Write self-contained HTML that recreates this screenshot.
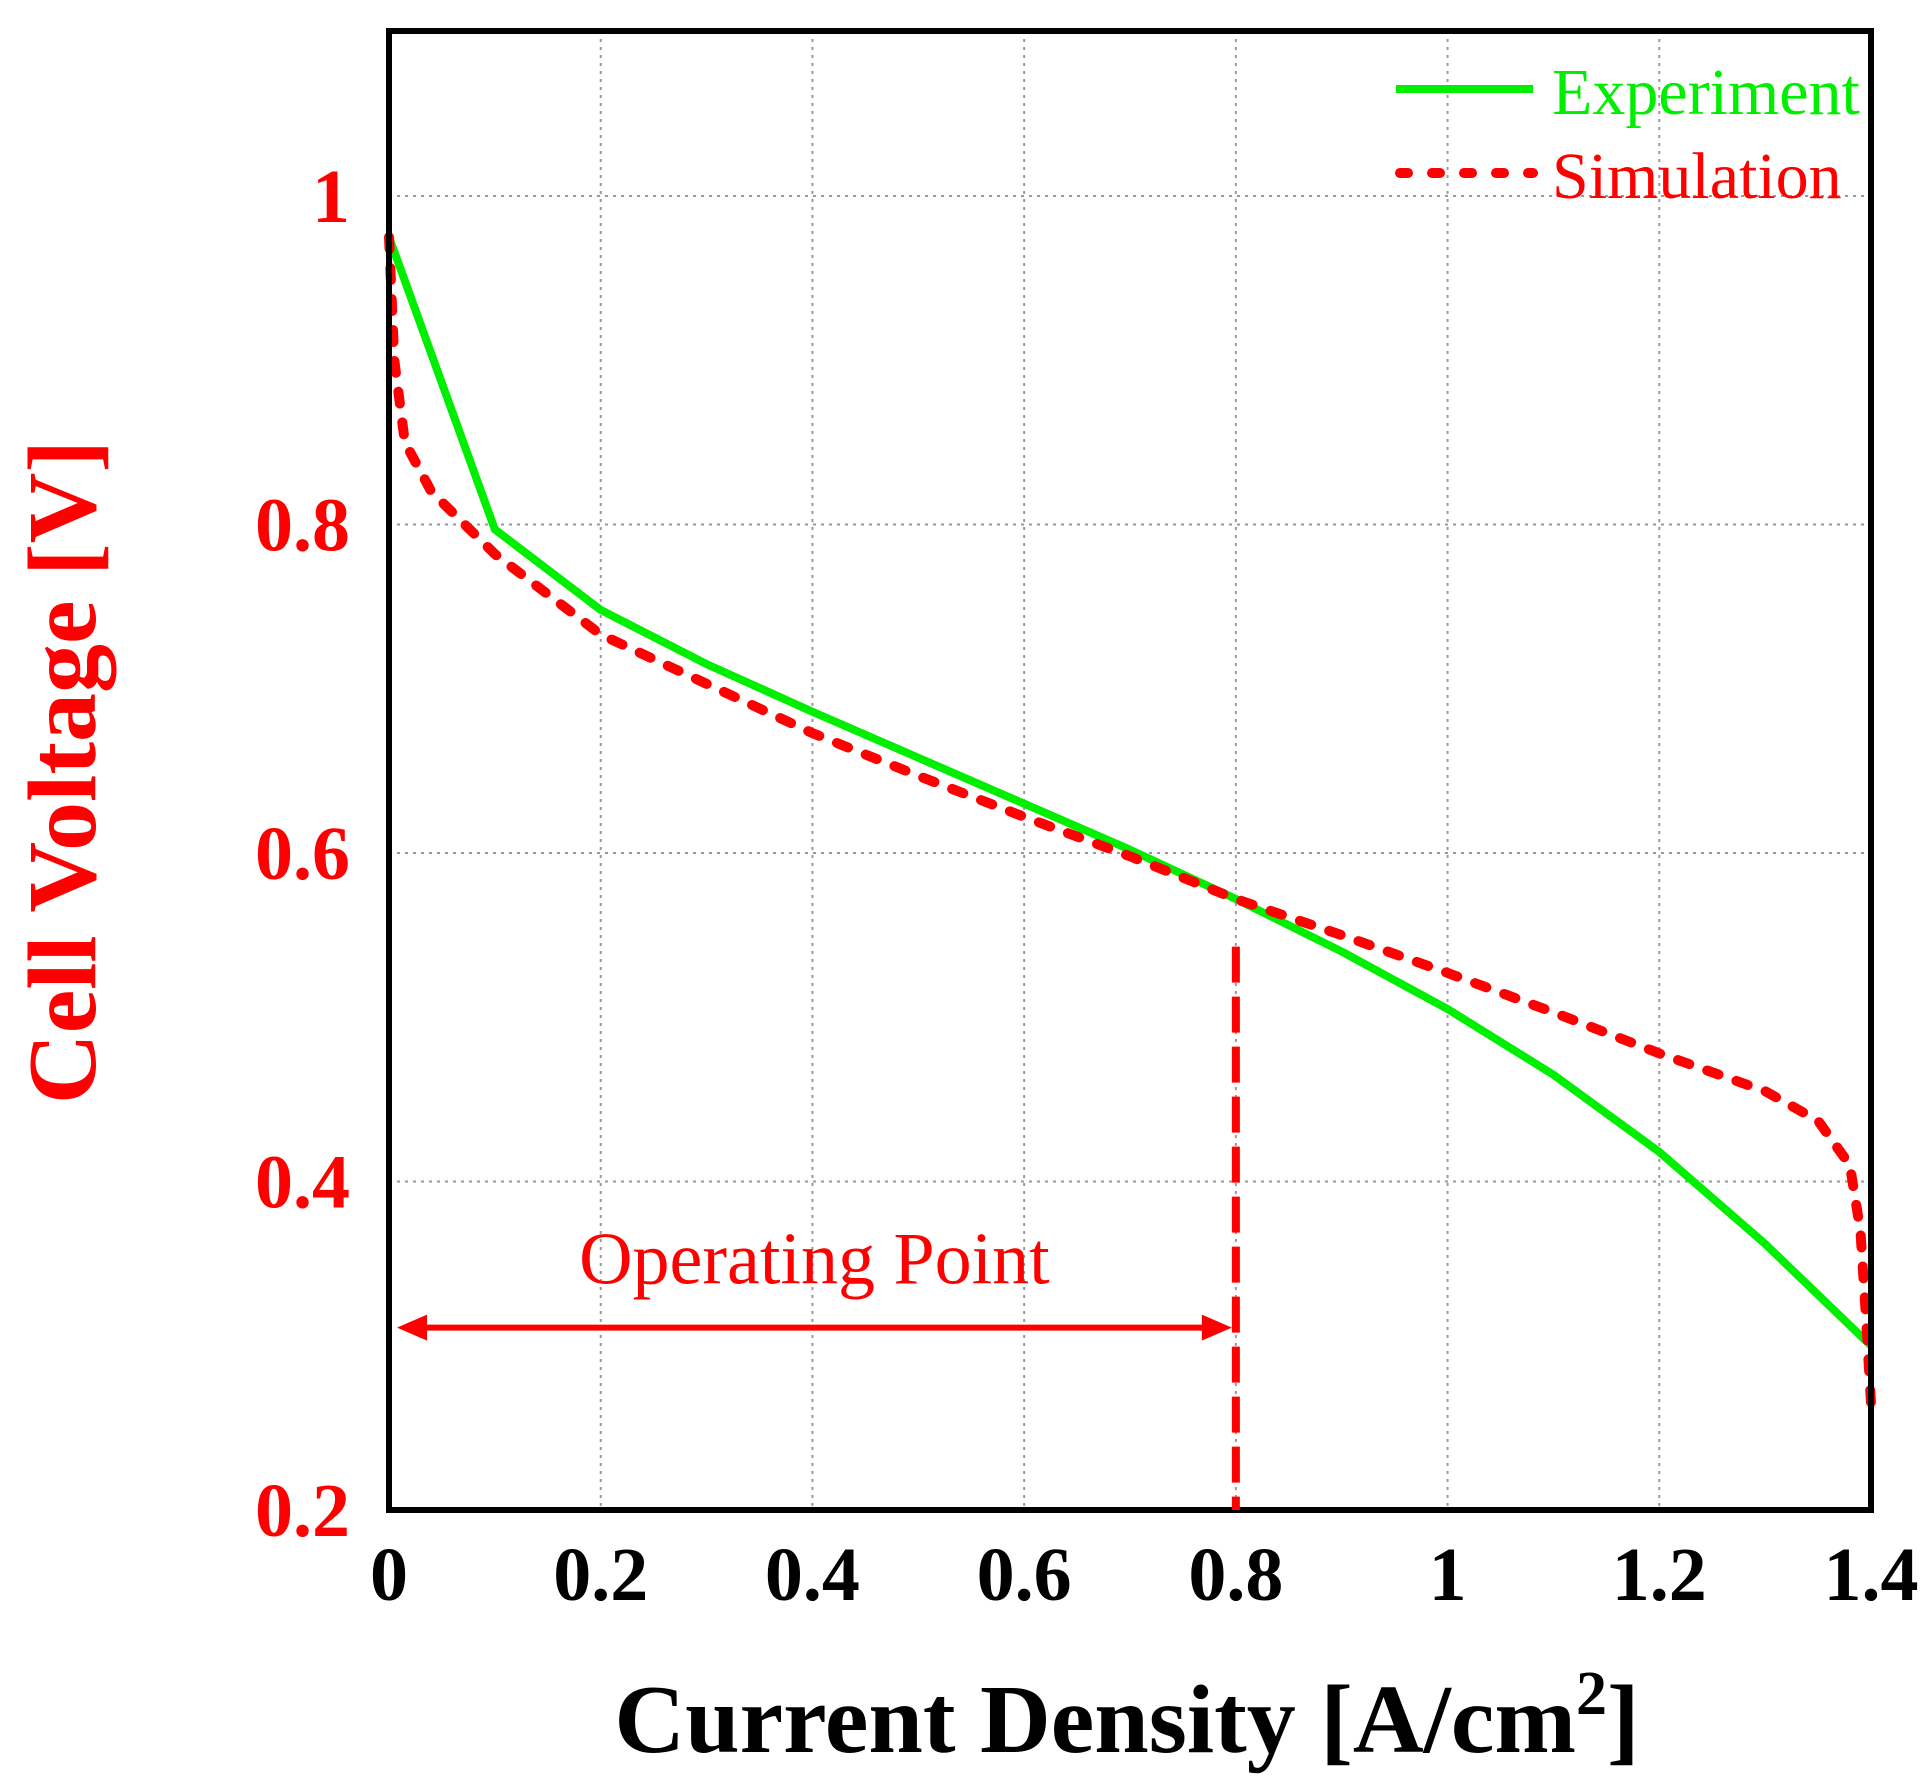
<!DOCTYPE html>
<html><head><meta charset="utf-8"><style>
html,body{margin:0;padding:0;background:#fff;}
svg{display:block;font-family:"Liberation Serif",serif;}
</style></head><body>
<svg id="chart" width="1931" height="1791" viewBox="0 0 1931 1791" xmlns="http://www.w3.org/2000/svg">
<g id="grid"></g>
<g id="series"></g>
<rect x="389" y="31" width="1482" height="1479" fill="none" stroke="#000" stroke-width="6"/>
<g id="ticks"></g>
<text x="1127" y="1752" text-anchor="middle" font-size="98" font-weight="bold" fill="#000">Current Density [A/cm<tspan dy="-38" font-size="62">2</tspan><tspan dy="38">]</tspan></text>
<text transform="translate(95,772) rotate(-90)" text-anchor="middle" font-size="98" font-weight="bold" fill="#ff0000">Cell Voltage [V]</text>
<g>
<line x1="1396" y1="89" x2="1533" y2="89" stroke="#00ee00" stroke-width="8"/>
<text x="1552" y="114" font-size="66" fill="#00ee00">Experiment</text>
<line x1="1400" y1="173" x2="1533" y2="173" stroke="#ff0000" stroke-width="10" stroke-dasharray="8 24" stroke-linecap="round"/>
<text x="1552" y="198" font-size="66" fill="#ff0000">Simulation</text>
</g>
<g id="annot"></g>
</svg>
<script>
const xTicks = [0, 0.2, 0.4, 0.6, 0.8, 1, 1.2, 1.4];
const xTickLabels = ["0", "0.2", "0.4", "0.6", "0.8", "1", "1.2", "1.4"];
const yTicks = [0.2, 0.4, 0.6, 0.8, 1.0];
const yTickLabels = ["0.2", "0.4", "0.6", "0.8", "1"];
const expX = [0, 0.1, 0.2, 0.3, 0.4, 0.5, 0.6, 0.7, 0.8, 0.9, 1.0, 1.1, 1.2, 1.3, 1.4];
const expY = [0.975, 0.797, 0.748, 0.715, 0.686, 0.658, 0.63, 0.602, 0.572, 0.54, 0.505, 0.465, 0.418, 0.362, 0.3];
const simX = [0, 0.005, 0.015, 0.04, 0.1, 0.2, 0.3, 0.4, 0.5, 0.6, 0.7, 0.8, 0.9, 1.0, 1.1, 1.2, 1.3, 1.35, 1.38, 1.39, 1.395, 1.4];
const simY = [0.975, 0.9, 0.85, 0.82, 0.782, 0.733, 0.703, 0.673, 0.647, 0.622, 0.598, 0.572, 0.55, 0.527, 0.503, 0.478, 0.455, 0.437, 0.41, 0.37, 0.32, 0.265];
const opPoint = 0.8;
const opArrowY = 0.311;
const opLineTop = 0.543;

const X0=389,X1=1871,Y0=1510,Y1=196;
const xs=v=>X0+(v-0)/(1.4-0)*(X1-X0);
const ys=v=>Y0-(v-0.2)/(1.0-0.2)*(Y0-Y1);
const NS="http://www.w3.org/2000/svg";
function mk(tag,attrs,parent){const e=document.createElementNS(NS,tag);for(const k in attrs)e.setAttribute(k,attrs[k]);parent.appendChild(e);return e;}
const grid=document.getElementById('grid'),ticks=document.getElementById('ticks'),series=document.getElementById('series'),annot=document.getElementById('annot');
xTicks.forEach((v,i)=>{
  if(i>0&&i<xTicks.length-1){const l=mk('line',{x1:xs(v),y1:31,x2:xs(v),y2:1510,stroke:'#999','stroke-width':2,'stroke-dasharray':'3 5'},grid);
  
  }
  const t=mk('text',{x:xs(v),y:1600,'text-anchor':'middle','font-size':76,'font-weight':'bold',fill:'#000'},ticks);
  t.textContent=xTickLabels[i];
  
  
});
yTicks.forEach((v,i)=>{
  if(i>0){const l=mk('line',{x1:389,y1:ys(v),x2:1871,y2:ys(v),stroke:'#999','stroke-width':2,'stroke-dasharray':'3 5'},grid);
  
  }
  const t=mk('text',{x:350,y:ys(v)+26,'text-anchor':'end','font-size':76,'font-weight':'bold',fill:'#ff0000'},ticks);
  t.textContent=yTickLabels[i];
  
  
});
const pe=mk('polyline',{points:expX.map((x,i)=>xs(x)+','+ys(expY[i])).join(' '),fill:'none',stroke:'#00ee00','stroke-width':8,'stroke-linejoin':'round'},series);


const psim=mk('polyline',{points:simX.map((x,i)=>xs(x)+','+ys(simY[i])).join(' '),fill:'none',stroke:'#ff0000','stroke-width':10,'stroke-dasharray':'12 19','stroke-linecap':'round','stroke-linejoin':'round'},series);


const vl=mk('line',{x1:xs(opPoint),y1:ys(opLineTop),x2:xs(opPoint),y2:1510,stroke:'#ff0000','stroke-width':8,'stroke-dasharray':'36 14'},annot);


const ay=ys(opArrowY),ax0=xs(0)+8,ax1=xs(opPoint)-4;
const al=mk('line',{x1:ax0+20,y1:ay,x2:ax1-20,y2:ay,stroke:'#ff0000','stroke-width':6},annot);


const h1=mk('polygon',{points:`${ax0},${ay} ${ax0+30},${ay-13} ${ax0+30},${ay+13}`,fill:'#ff0000'},annot);


const h2=mk('polygon',{points:`${ax1},${ay} ${ax1-30},${ay-13} ${ax1-30},${ay+13}`,fill:'#ff0000'},annot);


const ot=mk('text',{x:(ax0+ax1)/2,y:ay-44,'text-anchor':'middle','font-size':74,fill:'#ff0000'},annot);
ot.textContent='Operating Point';


</script>
</body></html>
